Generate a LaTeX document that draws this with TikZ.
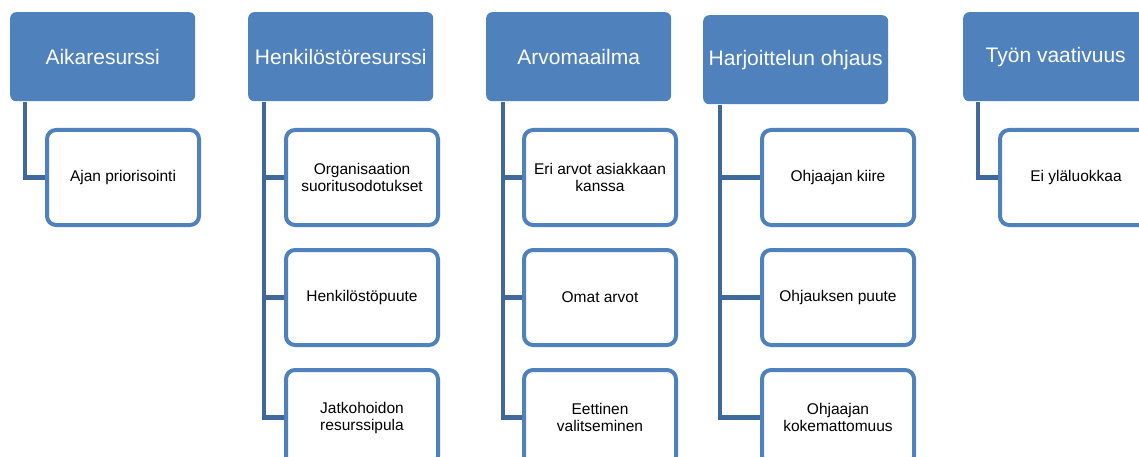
\documentclass[tikz,border=0pt]{standalone}
\usepackage{fontspec}
\setmainfont{Liberation Sans}
\definecolor{hdr}{RGB}{79,129,189}
\definecolor{conn}{RGB}{64,104,154}
\tikzset{
  hdrbox/.style={fill=hdr, draw=none, rounded corners=6pt, minimum width=185pt, minimum height=89pt, inner sep=0pt, text=white, font=\fontsize{21}{24}\selectfont, anchor=north west},
  childbox/.style={fill=white, draw=hdr, line width=4pt, rounded corners=9pt, minimum width=152pt, minimum height=95pt, inner sep=0pt, align=center, text=black, font=\fontsize{15.5}{17}\selectfont, anchor=north west},
  tie/.style={draw=conn, line width=4.5pt}
}
\begin{document}
\begin{tikzpicture}[x=1pt,y=-1pt]
\useasboundingbox (0,0) rectangle (1139,457);
\clip (0,0) rectangle (1139,457);
% headers
\node[hdrbox] (h1) at (10,12) {Aikaresurssi};
\node[hdrbox] (h2) at (248,12) {Henkilöstöresurssi};
\node[hdrbox] (h3) at (486,12) {Arvomaailma};
\node[hdrbox] (h4) at (703,15) {Harjoittelun ohjaus};
\node[hdrbox] (h5) at (963,12) {Työn vaativuus};
% children
\node[childbox] (c11) at (45,128) {Ajan priorisointi};
\node[childbox] (c21) at (284,128) {Organisaation\\suoritusodotukset};
\node[childbox] (c22) at (284,248) {Henkilöstöpuute};
\node[childbox] (c23) at (284,368) {Jatkohoidon\\resurssipula};
\node[childbox] (c31) at (522,128) {Eri arvot asiakkaan\\kanssa};
\node[childbox] (c32) at (522,248) {Omat arvot};
\node[childbox] (c33) at (522,368) {Eettinen\\valitseminen};
\node[childbox] (c41) at (760,128) {Ohjaajan kiire};
\node[childbox] (c42) at (760,248) {Ohjauksen puute};
\node[childbox] (c43) at (760,368) {Ohjaajan\\kokemattomuus};
\node[childbox] (c51) at (998,128) {Ei yläluokkaa};
% connectors
\coordinate (v1) at (25,102);
\coordinate (v2) at (264,102);
\coordinate (v3) at (503,102);
\coordinate (v4) at (720,105);
\coordinate (v5) at (978,102);
\draw[tie] (v1) |- (c11.west);
\draw[tie] (v2) |- (c23.west);
\draw[tie] (v2 |- c21.west) -- (c21.west);
\draw[tie] (v2 |- c22.west) -- (c22.west);
\draw[tie] (v3) |- (c33.west);
\draw[tie] (v3 |- c31.west) -- (c31.west);
\draw[tie] (v3 |- c32.west) -- (c32.west);
\draw[tie] (v4) |- (c43.west);
\draw[tie] (v4 |- c41.west) -- (c41.west);
\draw[tie] (v4 |- c42.west) -- (c42.west);
\draw[tie] (v5) |- (c51.west);
\end{tikzpicture}
\end{document}
